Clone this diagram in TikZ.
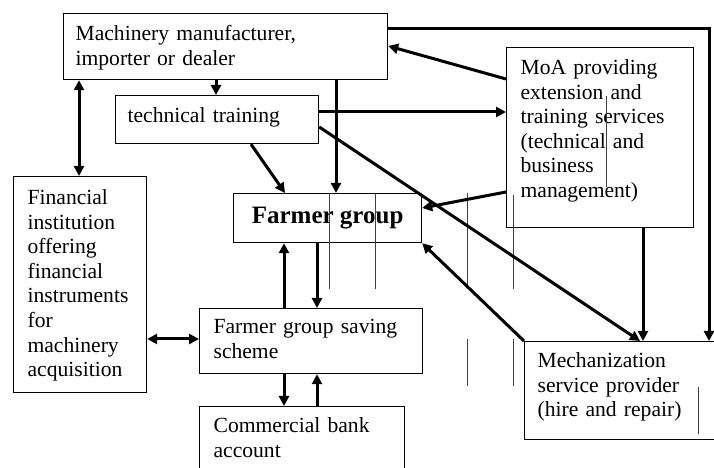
\documentclass[tikz,border=0pt]{standalone}
\usepackage{fontspec}
\setmainfont{Liberation Serif}
\usetikzlibrary{arrows.meta}
\tikzset {
  >={Triangle[length=5bp,width=5bp]},
  box/.style={draw,line width=0.6bp,anchor=north west,inner xsep=7bp,inner ysep=0pt,
    align=left,font=\fontsize{10.8bp}{12.3bp}\selectfont},
  link/.style={line width=1.5bp},
  gridline/.style={line width=0.5bp,black!75},
}

\begin{document}
\begin{tikzpicture}[x=0.5bp,y=-0.5bp]
          \useasboundingbox (0,0) rectangle (714,468);
          % boxes
          \node[box,inner xsep=6bp,text width=150bp,text height=13.5bp,text depth=19.5bp] (mach) at (63,13)
            {Machinery manufacturer,\\importer or dealer};
          \node[box,inner xsep=6bp,text width=89.5bp,text height=13.5bp,text depth=10.5bp] (train) at (115,95)
            {technical training};
          \node[box,text width=52.5bp,text height=14bp,text depth=94bp] (fin) at (13,176)
            {Financial\\institution\\offering\\financial\\instruments\\for\\machinery\\acquisition};
          \node[draw,line width=0.6bp,anchor=north west,minimum width=94bp,minimum height=24.5bp,
            font=\bfseries\fontsize{12.5bp}{14bp}\selectfont] (farmer) at (233,193) {Farmer group};
          \node[box,text width=97.5bp,text height=12.5bp,text depth=20bp] (save) at (199,308)
            {Farmer group saving\\scheme};
          \node[box,text width=88.5bp,text height=13bp,text depth=27bp] (bank) at (199,406)
            {Commercial bank\\account};
          \node[box,text width=79.5bp,text height=13.5bp,text depth=76.5bp] (moa) at (506,47)
            {MoA providing\\extension and\\training services\\(technical and\\business\\management)};
          \node[box,inner xsep=6.5bp,text width=110bp,text height=13bp,text depth=36bp] (mech) at (524,341)
            {Mechanization\\service provider\\(hire and repair)};
          % stray table lines
          \draw[gridline] (329,193) -- (329,289) (375,193) -- (375,289)
            (467,193) -- (467,289) (467,339) -- (467,386)
            (513,195) -- (513,289) (513,339) -- (513,386)
            (606,96) -- (606,187) (698,387) -- (698,434);
          % connectors
          \draw[<->,link] (79,0 |- mach.south) -- (79,0 |- fin.north);
          \draw[->,link] (216,0 |- mach.south) -- (216,0 |- train.north);
          \draw[->,link] (336,0 |- mach.south) -- (336,0 |- farmer.north);
          \draw[->,link] (251,0 |- train.south) -- (285,0 |- farmer.north);
          \draw[->,link] (train.east |- 0,112) -- (moa.west |- 0,112);
          \draw[->,link] (train.east |- 0,127) -- (640,0 |- mech.north);
          \draw[->,link] (moa.west |- 0,79) -- (mach.east |- 0,46);
          \draw[->,link] (moa.west |- 0,192) -- (farmer.east |- 0,208);
          \draw[->,link] (643,0 |- moa.south) -- (643,0 |- mech.north);
          \draw[->,link] (mech.north west) -- (farmer.south east);
          \draw[->,link] (317,0 |- farmer.south) -- (317,0 |- save.north);
          \draw[->,link] (284,0 |- save.north) -- (284,0 |- farmer.south);
          \draw[<->,link] (fin.east |- 0,339) -- (save.west |- 0,339);
          \draw[->,link] (284,0 |- save.south) -- (284,0 |- bank.north);
          \draw[->,link] (317,0 |- bank.north) -- (317,0 |- save.south);
          \draw[->,link] (mach.east |- 0,29) -| (709,0 |- mech.north);
        \end{tikzpicture}
\end{document}
